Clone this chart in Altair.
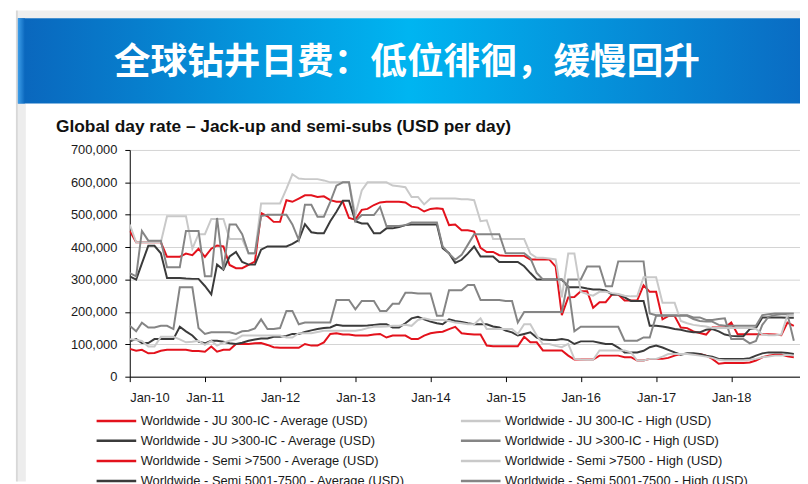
import altair as alt
import pandas as pd

# ---------------- data (thousand USD per day, monthly Jan-2010 .. Nov-2018) ----------------
start_month = "2010-01-01"
n_months = 107

ju300_avg = [
    86, 80, 83, 72, 73, 80, 83, 83, 83, 83, 79, 79,
    77, 93, 77, 83, 83, 101, 101, 101, 103, 104, 98, 91,
    89, 89, 89, 89, 101, 96, 96, 106, 132, 134, 130, 130,
    127, 127, 127, 130, 132, 121, 127, 127, 127, 116, 116, 127,
    134, 137, 139, 147, 154, 134, 132, 130, 130, 96, 94, 94,
    94, 94, 94, 123, 106, 106, 81, 81, 81, 81, 65, 53,
    53, 53, 53, 65, 65, 65, 65, 60, 60, 50, 50, 55,
    55, 55, 58, 65, 70, 70, 70, 70, 65, 55, 40, 42,
    42, 42, 42, 44, 50, 60, 65, 68, 68, 63, 60,
]
ju300_high = [
    116, 113, 110, 93, 93, 123, 123, 123, 115, 106, 108, 111,
    98, 110, 96, 105, 111, 115, 127, 127, 127, 127, 127, 127,
    127, 121, 121, 134, 134, 134, 138, 142, 142, 142, 142, 142,
    142, 145, 150, 154, 154, 155, 157, 157, 160, 157, 175, 180,
    176, 175, 175, 172, 167, 165, 162, 162, 180, 147, 147, 147,
    147, 147, 132, 162, 162, 127, 101, 101, 95, 91, 101, 55,
    53, 52, 52, 81, 81, 81, 81, 81, 75, 50, 50, 55,
    55, 62, 70, 70, 70, 70, 68, 65, 62, 58, 52, 50,
    50, 50, 50, 52, 55, 60, 62, 65, 65, 68, 65,
]
jugt300_avg = [
    109, 116, 104, 104, 116, 116, 116, 116, 154, 140, 127, 108,
    103, 111, 111, 108, 103, 101, 105, 111, 115, 118, 118, 123,
    123, 126, 132, 132, 138, 143, 147, 150, 152, 160, 157, 157,
    157, 157, 158, 160, 162, 162, 152, 152, 165, 180, 185, 177,
    170, 165, 162, 177, 172, 169, 165, 162, 162, 162, 155, 152,
    142, 137, 127, 132, 137, 121, 115, 113, 113, 116, 113, 101,
    109, 109, 109, 105, 101, 101, 90, 75, 75, 75, 80, 91,
    96, 90, 83, 75, 68, 72, 72, 70, 65, 62, 55, 55,
    55, 55, 55, 57, 65, 72, 75, 75, 75, 73, 70,
]
jugt300_high = [
    157, 140, 167, 152, 152, 157, 157, 147, 276, 276, 276, 150,
    132, 137, 137, 137, 137, 132, 140, 142, 149, 177, 147, 147,
    150, 203, 203, 162, 167, 167, 167, 167, 167, 237, 237, 237,
    208, 234, 234, 234, 203, 203, 225, 225, 259, 259, 257, 257,
    257, 188, 188, 267, 267, 267, 283, 283, 237, 237, 237, 237,
    234, 234, 167, 200, 200, 200, 200, 200, 200, 200, 300, 300,
    300, 340, 340, 340, 279, 279, 356, 356, 356, 356, 356, 195,
    190, 190, 190, 190, 190, 190, 183, 183, 175, 175, 178, 180,
    116, 116, 116, 103, 110, 160, 185, 190, 193, 193, 111,
]
semi7500_avg = [
    450, 415, 415, 415, 415, 415, 370, 370, 370, 380, 375, 395,
    370, 395, 405, 402, 345, 335, 335, 345, 355, 505, 495, 478,
    478, 545, 540, 550, 560, 560, 555, 557, 545, 540, 540, 490,
    485, 515, 518, 530, 538, 540, 540, 540, 538, 525, 522, 510,
    518, 520, 518, 468, 470, 452, 452, 448, 398, 385, 385, 375,
    373, 373, 373, 373, 362, 362, 362, 362, 340, 190, 245, 246,
    264, 264, 213, 230, 230, 254, 254, 235, 235, 235, 282, 262,
    262, 177, 187, 187, 152, 150, 140, 135, 130, 152, 152, 152,
    167, 131, 131, 131, 131, 131, 131, 130, 128, 167, 157,
]
semi7500_high = [
    470, 415, 415, 415, 415, 415, 495, 495, 495, 495, 395, 440,
    440, 487, 487, 487, 425, 425, 425, 380, 380, 535, 535, 535,
    535, 580, 625, 612, 610, 610, 610, 606, 600, 600, 600, 600,
    500, 575, 600, 600, 600, 600, 590, 588, 585, 555, 555, 532,
    550, 550, 550, 550, 550, 548, 548, 545, 480, 483, 425, 425,
    425, 425, 425, 425, 380, 367, 367, 365, 362, 245, 380, 380,
    262, 255, 250, 262, 262, 258, 255, 250, 248, 248, 307, 307,
    307, 228, 228, 228, 172, 165, 160, 157, 155, 150, 150, 150,
    150, 150, 150, 150, 148, 130, 128, 128, 130, 190, 188,
]
semi5001_avg = [
    310, 300, 350, 404, 404, 381, 305, 305, 305, 303, 302, 302,
    280, 254, 346, 330, 371, 385, 354, 346, 346, 392, 402, 402,
    402, 402, 410, 422, 471, 446, 443, 443, 480, 509, 543, 543,
    480, 473, 473, 443, 443, 458, 458, 462, 468, 470, 470, 470,
    470, 470, 397, 381, 351, 361, 380, 402, 371, 371, 371, 354,
    354, 354, 354, 341, 320, 300, 300, 300, 300, 300, 276, 276,
    276, 272, 269, 269, 266, 254, 254, 245, 234, 234, 234, 157,
    157, 155, 152, 147, 145, 140, 137, 137, 145, 147, 140, 130,
    126, 125, 125, 147, 150, 183, 183, 183, 183, 182, 182,
]
semi5001_high = [
    320, 310, 450, 420, 420, 420, 338, 338, 338, 450, 450, 450,
    310, 310, 490, 330, 470, 470, 440, 381, 381, 496, 500, 500,
    500, 500, 470, 422, 531, 531, 494, 494, 540, 590, 600, 600,
    480, 499, 499, 499, 524, 465, 465, 465, 468, 476, 476, 476,
    476, 476, 402, 380, 361, 376, 407, 440, 440, 440, 440, 440,
    381, 381, 381, 381, 366, 320, 300, 300, 300, 300, 280, 140,
    154, 154, 154, 154, 154, 154, 154, 111, 111, 111, 121, 121,
    188, 188, 188, 188, 188, 188, 178, 172, 170, 170, 160, 157,
    157, 157, 157, 157, 157, 190, 193, 195, 195, 195, 195,
]

# legend is filled column by column: the four averages, then the four highs
series_names = [
    "Worldwide - JU 300-IC - Average (USD)",
    "Worldwide - JU >300-IC - Average (USD)",
    "Worldwide - Semi >7500 - Average (USD)",
    "Worldwide - Semi 5001-7500 - Average (USD)",
    "Worldwide - JU 300-IC - High (USD)",
    "Worldwide - JU >300-IC - High (USD)",
    "Worldwide - Semi >7500 - High (USD)",
    "Worldwide - Semi 5001-7500 - High (USD)",
]
series_values = [ju300_avg, jugt300_avg, semi7500_avg, semi5001_avg,
                 ju300_high, jugt300_high, semi7500_high, semi5001_high]
series_colors = ["#e3121c", "#3b3b3b", "#e3121c", "#3b3b3b",
                 "#c9c9c9", "#858585", "#c9c9c9", "#858585"]

y_ticks = [0, 100000, 200000, 300000, 400000, 500000, 600000, 700000]
x_tick_years = [2010, 2011, 2012, 2013, 2014, 2015, 2016, 2017, 2018]

banner_text = "全球钻井日费：低位徘徊，缓慢回升"
chart_title = "Global day rate – Jack-up and semi-subs (USD per day)"

# ---------------- build table ----------------
months = pd.date_range(start_month, periods=n_months, freq="MS")
rows = []
for name, vals in zip(series_names, series_values):
    assert len(vals) == n_months, name
    for d, v in zip(months, vals):
        rows.append({"date": d, "series": name, "value": v * 1000})
df = pd.DataFrame(rows)
one = pd.DataFrame({"k": [0]})

FONT = "Liberation Sans"
W, H = 677, 229          # plot area
PL, PT = 123, 141        # padding left / top
PB = 106


def box(x, x2, y, y2, fill):
    return alt.Chart(one).mark_rect(fill=fill, strokeWidth=0).encode(
        x=alt.value(x), x2=alt.value(x2), y=alt.value(y), y2=alt.value(y2))


banner_grad = alt.Gradient(
    gradient="linear", x1=0, x2=1, y1=0, y2=0,
    stops=[alt.GradientStop(offset=0, color="#0a66bd"),
           alt.GradientStop(offset=0.5, color="#00b5f1"),
           alt.GradientStop(offset=1, color="#0a6cc3")])
bevel_grad = alt.Gradient(
    gradient="linear", x1=0, x2=1, y1=0, y2=0,
    stops=[alt.GradientStop(offset=0, color="#3d9ee9"),
           alt.GradientStop(offset=1, color="#0b68be")])

top_gray = box(-113, W, -PT, -133, "#efefef")
left_line = box(-115, -113, -PT, H + PB, "#d8d8d8")
left_strip = box(-113, -105, -47, H + PB, "#ededed")
banner = box(-113, W, -133, -47, banner_grad)
bevel = box(-113, -106, -133, -47, bevel_grad)

banner_label = alt.Chart(one).mark_text(
    font="Noto Sans CJK SC", fontSize=37, fontWeight="bold", color="white",
    align="center", baseline="middle").encode(
    x=alt.value(280), y=alt.value(-87.5), text=alt.value(banner_text))

title_label = alt.Chart(one).mark_text(
    font=FONT, fontSize=17.5, fontWeight="bold", color="#111111",
    align="left", baseline="alphabetic").encode(
    x=alt.value(-74.5), y=alt.value(-18), text=alt.value(chart_title))

lines = alt.Chart(df).mark_line(strokeWidth=2, clip=True).encode(
    x=alt.X("date:T",
            scale=alt.Scale(domain=[alt.DateTime(year=2010, month=1, date=1),
                                    alt.DateTime(year=2018, month=12, date=1)]),
            axis=alt.Axis(values=[alt.DateTime(year=y, month=1, date=1) for y in x_tick_years],
                          format="%b-%y", title=None, grid=False,
                          tickSize=5, labelPadding=10)),
    y=alt.Y("value:Q", scale=alt.Scale(domain=[0, 700000], nice=False),
            axis=alt.Axis(values=y_ticks, format=",.0f", title=None, grid=True,
                          tickSize=5, labelPadding=8)),
    color=alt.Color("series:N",
                    scale=alt.Scale(domain=series_names, range=series_colors),
                    legend=alt.Legend(orient="none", legendX=-35, legendY=267,
                                      columns=2, columnPadding=55, rowPadding=6.3,
                                      clipHeight=13,
                                      symbolType="stroke", symbolSize=1600,
                                      symbolStrokeWidth=2.5, labelFontSize=13,
                                      labelFont=FONT, labelColor="#1a1a1a",
                                      labelOffset=3, labelLimit=500, title=None,
                                      padding=0)),
)

chart = alt.layer(
    top_gray, left_line, left_strip, banner, bevel, banner_label, title_label, lines
).properties(
    width=W, height=H,
    padding={"left": PL, "top": PT, "right": 0, "bottom": PB},
    autosize=alt.AutoSizeParams(type="none"),
    background="white",
).configure_view(stroke=None).configure_axis(
    labelFont=FONT, labelFontSize=13, labelColor="#1a1a1a",
    domainColor="#000000", tickColor="#000000", domainWidth=1, tickWidth=1,
    gridColor="#d3d3d3", gridWidth=1,
)

chart.save("out.html", embed_options={"renderer": "svg", "actions": False})
